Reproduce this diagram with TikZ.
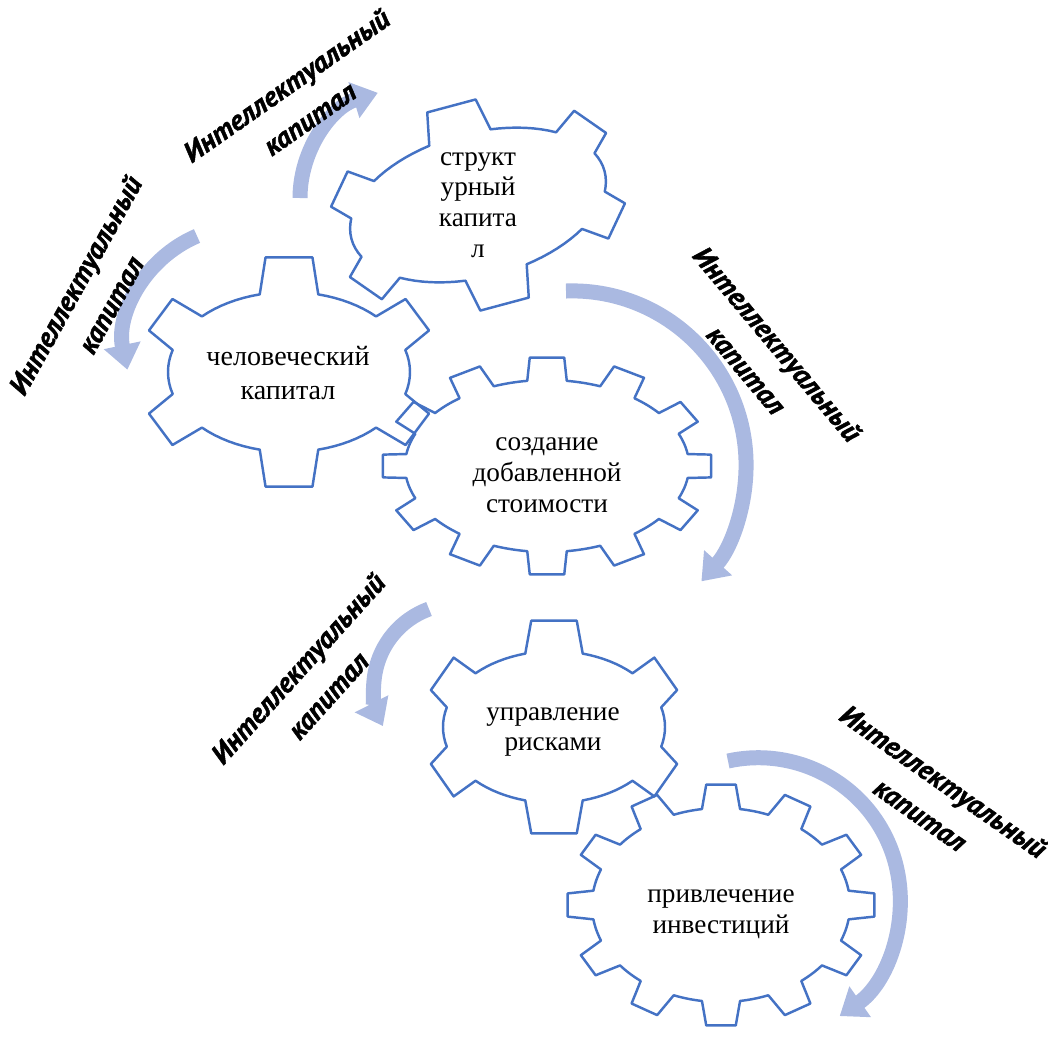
\documentclass[tikz,border=0pt]{standalone}
\usepackage{fontspec}
\setmainfont{Liberation Serif}
\newfontfamily\labfont{PT Sans}[BoldItalicFeatures={FakeBold=1.6}]
\usetikzlibrary{arrows.meta}
\definecolor{gearblue}{RGB}{68,114,196}
\definecolor{flowblue}{RGB}{170,185,225}
\begin{document}
\begin{tikzpicture}[x=0.02cm, y=-0.02cm, line cap=round, line join=round]
			\tikzset{gear/.style={draw=gearblue, line width=1.4pt},
				flow/.style={draw=flowblue, line width=0.3cm, line cap=butt, -{Triangle[length=0.5cm, width=0.72cm]}},
				gtext/.style={font=\fontsize{15.5}{17.5}\selectfont, align=center},
				ltext/.style={font=\labfont\bfseries\itshape\fontsize{16}{23}\selectfont, align=center}}
			\useasboundingbox (0,0) rectangle (1048,1039);
			\foreach \cx/\cy/\rot/\ra/\rb/\RA/\RB/\n/\wt/\wb/\off in {478/205/15/131/72/152/104/6/9.5/14/30,
				289/372/0/121/80/150/116/6/9/14/30, 547/466/0/142/86/165/109/12/6/8/0,
				554/727/0/111/76/131/108/6/10/15/30, 721/905/0/129/97/154/121/12/5.5/8.5/0}{
				\begin{scope}[shift={(\cx,\cy)}, rotate=\rot]
					\draw[gear] ({\ra*cos(\off-\wb)},{\rb*sin(\off-\wb)})
					\foreach \k [evaluate=\k as \ta using \off+(\k-1)*360/\n, evaluate=\k as \tb using \off+\k*360/\n] in {1,...,\n}{
						-- ({\RA*cos(\ta-\wt)},{\RB*sin(\ta-\wt)}) -- ({\RA*cos(\ta+\wt)},{\RB*sin(\ta+\wt)})
						-- ({\ra*cos(\ta+\wb)},{\rb*sin(\ta+\wb)})
						-- plot[domain={\ta+\wb}:{\tb-\wb}, samples=9] ({\ra*cos(\x)},{\rb*sin(\x)})} -- cycle;
				\end{scope}
			}
			\node[gtext] (struct) at (478,205) {структ\\урный\\капита\\л};
			\node[gtext, font=\fontsize{16}{19}\selectfont] (human) at (288,373) {человеческий\\капитал};
			\node[gtext] (value) at (547,475) {создание\\добавленной\\стоимости};
			\node[gtext] (risk) at (553,732) {управление\\рисками};
			\node[gtext] (invest) at (721,914) {привлечение\\инвестиций};
			\coordinate (fa) at (300,198);
			\coordinate (fb) at (197,236);
			\coordinate (fc) at (566,291);
			\coordinate (fd) at (429,609);
			\coordinate (fe) at (728,761);
			\draw[flow] (fa) arc[start angle=180, end angle=253, radius=110];
			\draw[flow] (fb) arc[start angle=247, end angle=168, radius=118.5];
			\draw[flow] (fc) arc[start angle=-92, end angle=42, radius=174];
			\draw[flow] (fd) arc[start angle=250, end angle=153, radius=84];
			\draw[flow] (fe) arc[start angle=-102.3, end angle=55, radius=142];
			\node[ltext, rotate=35] (lab1) at (298,102) {Интеллектуальный\\капитал};
			\node[ltext, rotate=61] (lab2) at (93,295) {Интеллектуальный\\капитал};
			\node[ltext, rotate=-50] (lab3) at (762,357) {Интеллектуальный\\капитал};
			\node[ltext, rotate=48] (lab4) at (313,682) {Интеллектуальный\\капитал};
			\node[ltext, rotate=-35] (lab5) at (932,798) {Интеллектуальный\\капитал};
		\end{tikzpicture}
\end{document}
